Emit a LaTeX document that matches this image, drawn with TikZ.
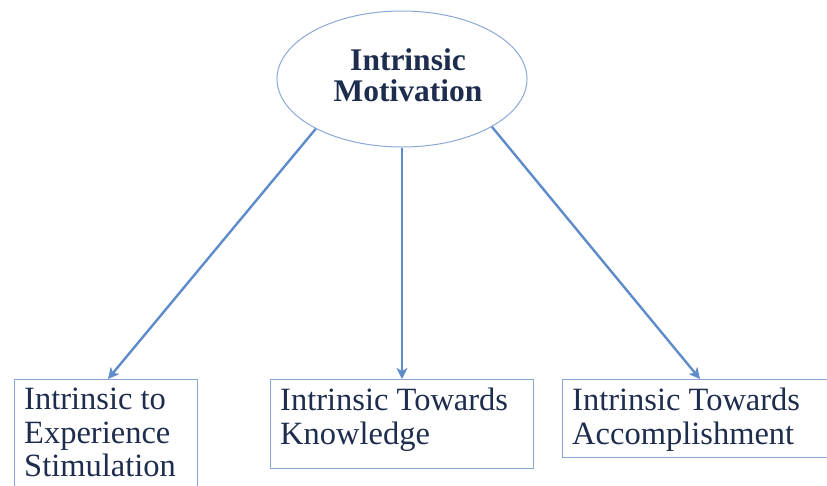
\documentclass[tikz,border=0pt]{standalone}
\usepackage{fontspec}
\setmainfont{Liberation Serif}
\usetikzlibrary{arrows.meta,shapes.geometric}
\definecolor{edgeblue}{HTML}{8AA8D6}
\definecolor{arrowblue}{HTML}{5E8BC9}
\definecolor{inkblue}{HTML}{1E2D4E}
\tikzset{
  hub/.style={ellipse, draw=edgeblue, line width=1pt, minimum width=250pt, minimum height=136pt, inner sep=0pt},
  leaf/.style={rectangle, draw=edgeblue, line width=1pt, anchor=north west, inner sep=0pt},
  leaftext/.style={anchor=north west, align=left, inner sep=0pt, text=inkblue,
    font=\fontsize{32.5}{33.5}\selectfont},
  link/.style={draw=arrowblue, line width=2.4pt, -{Stealth[length=11pt, width=11pt, inset=3pt]}}
}
\begin{document}
\begin{tikzpicture}[x=1pt, y=-1pt]
  \useasboundingbox (0,0) rectangle (827,485);
  \clip (0,0) rectangle (827,485);

  % central concept
  \node[hub] (im) at (402,79) {};
  \node[text=inkblue, align=center, inner sep=0pt, font=\bfseries\fontsize{31.5}{31}\selectfont]
    (imt) at (408,75) {Intrinsic\\Motivation};

  % three sub-types
  \node[leaf, minimum width=183pt, minimum height=130pt] (exp) at (14,379) {};
  \node[leaf, minimum width=263pt, minimum height=89pt] (know) at (270,379) {};
  \node[leaf, minimum width=280pt, minimum height=78pt] (acc) at (562,379) {};

  \node[leaftext] (expt) at ([shift={(10,9)}]exp.north west) {Intrinsic to\\Experience\\Stimulation};
  \node[leaftext] (knowt) at ([shift={(10,9)}]know.north west) {Intrinsic Towards\\Knowledge};
  \node[leaftext] (acct) at ([shift={(10,9)}]acc.north west) {Intrinsic Towards\\Accomplishment};

  % connectors
  \draw[link] (im.210) -- ([xshift=94pt]exp.north west);
  \draw[link] (im.south) -- (know.north);
  \draw[link] (im.-28) -- ([xshift=138pt]acc.north west);
\end{tikzpicture}
\end{document}
